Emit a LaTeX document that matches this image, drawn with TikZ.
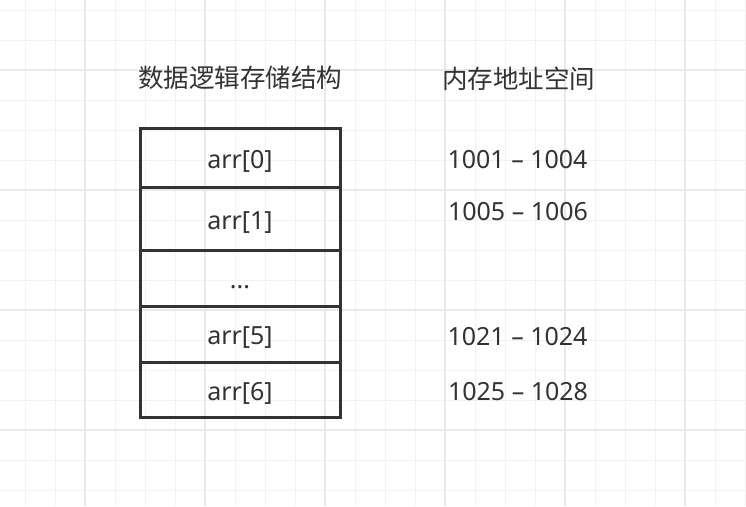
\documentclass[tikz,border=0pt]{standalone}
\usepackage{fontspec}
\setmainfont{Noto Sans}
\newfontfamily\cjk{Noto Sans CJK SC}
\usepackage{xcolor}
\usepackage{tikz}
\usetikzlibrary{positioning}
\definecolor{bg}{HTML}{FFFFFF}
\definecolor{ink}{HTML}{333333}
\definecolor{gridminor}{HTML}{F2F2F2}
\definecolor{gridmajor}{HTML}{E9E9E9}
\tikzset{
  minor/.style={draw=gridminor, line width=1pt},
  major/.style={draw=gridmajor, line width=1.6pt},
  cell/.style={draw=ink, line width=3pt, minimum width=200pt, inner sep=0pt,
    text=ink, text height=23pt, text depth=2pt,
    font=\fontsize{25}{30}\selectfont},
  lab/.style={text=ink, inner sep=0pt, text height=23pt, text depth=2pt,
    font=\fontsize{25}{30}\selectfont},
  head/.style={text=ink, inner sep=0pt, font=\cjk\fontsize{25.5}{30}\selectfont},
}
\begin{document}
\begin{tikzpicture}[x=1pt, y=-1pt]
  \fill[bg] (0,0) rectangle (746,506);
  \useasboundingbox (0,0) rectangle (746,506);
  % background grid
  \foreach \x in {25,55,...,745} \draw[minor] (\x,0) -- (\x,506);
  \foreach \y in {10,40,...,490} \draw[minor] (0,\y) -- (746,\y);
  \foreach \x in {85,205,...,685} \draw[major] (\x,0) -- (\x,506);
  \foreach \y in {70,190,...,430} \draw[major] (0,\y) -- (746,\y);
  % headings
  \node[head] (logic) at (240,78) {数据逻辑存储结构};
  \node[head] (mem) at (518.5,79) {内存地址空间};
  % array cells
  \node[cell, minimum height=59.5pt] (a0) at (240,157.75) {arr[0]};
  \node[cell, minimum height=62.5pt] (a1) at (240,218.75) {arr[1]};
  \node[cell, minimum height=56pt] (dots) at (240,278) {...};
  \node[cell, minimum height=56pt] (a5) at (240,334) {arr[5]};
  \node[cell, minimum height=55pt] (a6) at (240,389.5) {arr[6]};
  % address ranges
  \node[lab] (ad0) at (517.5,158) {1001 – 1004};
  \node[lab] (ad1) at (518,210) {1005 – 1006};
  \node[lab] (ad5) at (517.5,334.5) {1021 – 1024};
  \node[lab] (ad6) at (518,390) {1025 – 1028};
\end{tikzpicture}
\end{document}
